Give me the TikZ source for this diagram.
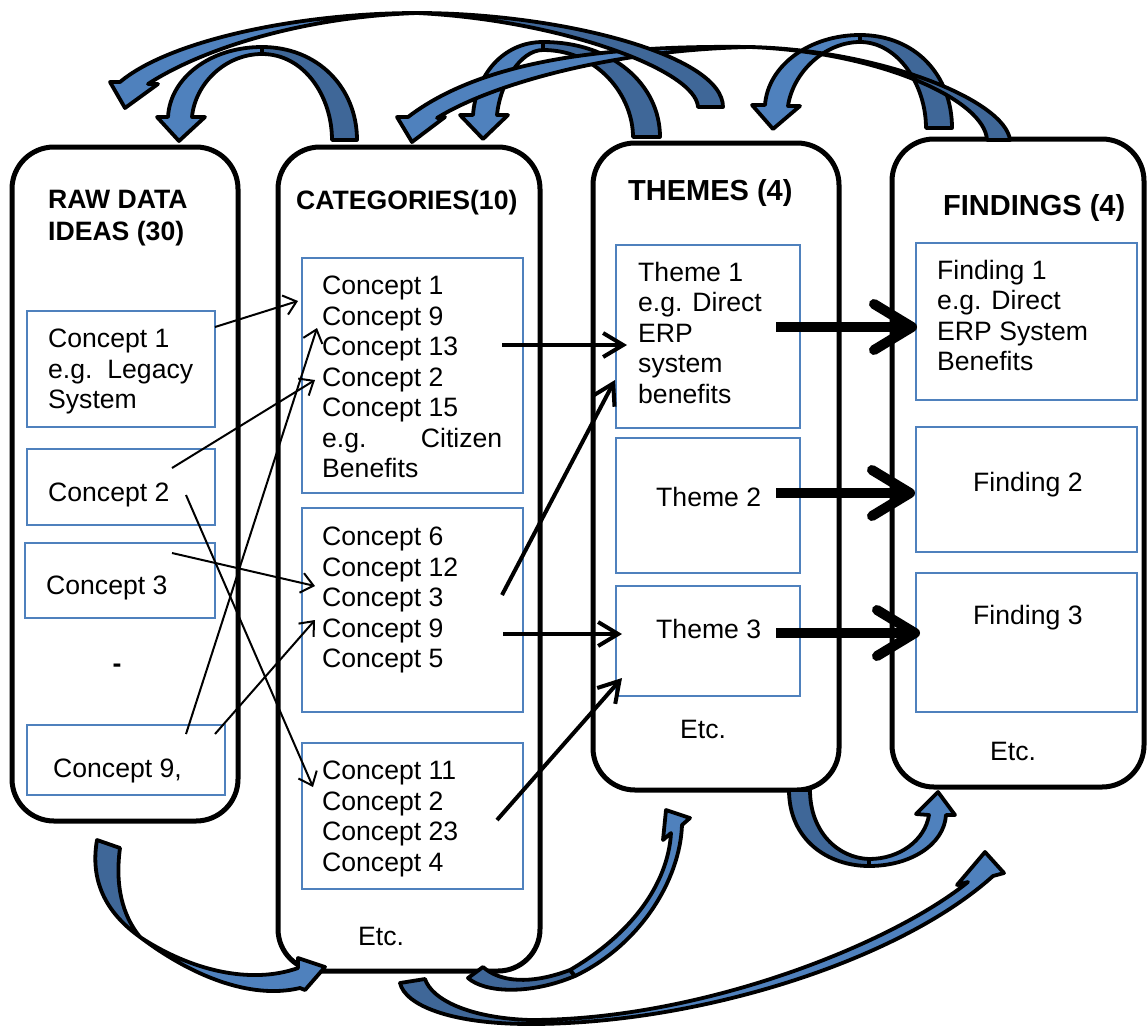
\documentclass[tikz,border=0pt]{standalone}
\usepackage{fontspec}
\setmainfont{Liberation Sans}
\usetikzlibrary{arrows.meta}

\definecolor{boxblue}{RGB}{79,129,189}
\definecolor{ribbonlight}{RGB}{79,129,189}
\definecolor{ribbondark}{RGB}{63,103,152}

\newcommand{\bodyfont}{\fontsize{26.6}{30.5}\selectfont}
\newcommand{\headfont}{\bfseries\fontsize{26.6}{31.5}\selectfont}
\newcommand{\bigheadfont}{\bfseries\fontsize{29}{33}\selectfont}

\begin{document}
\begin{tikzpicture}[x=1pt,y=-1pt,
	stage/.style={draw,line width=5pt,rounded corners=42pt},
	concept box/.style={draw=boxblue,line width=1.6pt},
	txt/.style={font=\bodyfont,inner sep=0pt,anchor=north west,align=left},
	head/.style={txt,font=\headfont},
	big head/.style={txt,font=\bigheadfont},
	thin link/.style={-{Straight Barb[length=12pt,width=20pt]},line width=2pt},
	mid link/.style={-{Straight Barb[length=20pt,width=24pt]},line width=4pt},
	big link/.style={-{Straight Barb[length=38pt,width=46pt,round]},line width=10pt},
	ribbon/.style={draw=black,line width=3.8pt,line join=round}]

	\useasboundingbox (0,0) rectangle (1148,1028);

	% the four stages
	\node[stage,minimum width=226pt,minimum height=674pt] (raw) at (125,484) {};
	\node[stage,minimum width=262pt,minimum height=824pt] (cat) at (409,559) {};
	\node[stage,minimum width=246pt,minimum height=647pt] (themes) at (716,466.5) {};
	\node[stage,minimum width=252pt,minimum height=648pt] (findings) at (1018,463) {};

	\node[head] (raw title) at (48,190) {RAW DATA\\IDEAS (30)};
	\node[head] (cat title) at (296,190) {CATEGORIES(10)};
	\node[big head] (themes title) at (628,179) {THEMES (4)};
	\node[big head] (findings title) at (943,194) {FINDINGS (4)};

	% raw data ideas
	\node[concept box,minimum width=188pt,minimum height=116pt] (rawc1) at (121,369) {};
	\node[concept box,minimum width=188pt,minimum height=76pt] (rawc2) at (121,487) {};
	\node[concept box,minimum width=190pt,minimum height=75pt] (rawc3) at (120,580.5) {};
	\node[concept box,minimum width=198pt,minimum height=70pt] (rawc9) at (126,760) {};
	\node[txt] (rawc1 text) at (48,329) {Concept 1\\\hbox to 145pt{e.g.\hfill Legacy}\\System};
	\node[txt] (rawc2 text) at (48,483) {Concept 2};
	\node[txt] (rawc3 text) at (46,576) {Concept 3};
	\node[font=\headfont,inner sep=0pt] (raw gap) at (117,668) {-};
	\node[txt] (rawc9 text) at (53,759) {Concept 9,};

	% categories
	\node[concept box,minimum width=221pt,minimum height=235pt] (cat1) at (412.5,375.5) {};
	\node[concept box,minimum width=221pt,minimum height=204pt] (cat2) at (412.5,610) {};
	\node[concept box,minimum width=221pt,minimum height=146pt] (cat3) at (412.5,816) {};
	\node[txt] (cat1 text) at (322,276) {Concept 1\\Concept 9\\Concept 13\\Concept 2\\Concept 15\\\hbox to 180pt{e.g.\hfill Citizen}\\Benefits};
	\node[txt] (cat2 text) at (322,527) {Concept 6\\Concept 12\\Concept 3\\Concept 9\\Concept 5};
	\node[txt] (cat3 text) at (322,761) {Concept 11\\Concept 2\\Concept 23\\Concept 4};
	\node[txt] (cat etc) at (358,927) {Etc.};

	% themes
	\node[concept box,minimum width=184pt,minimum height=183pt] (theme1) at (708,336.5) {};
	\node[concept box,minimum width=184pt,minimum height=135pt] (theme2) at (708,505.5) {};
	\node[concept box,minimum width=184pt,minimum height=110pt] (theme3) at (708,641) {};
	\node[txt] (theme1 text) at (638,262) {Theme 1\\e.g. Direct\\ERP\\system\\benefits};
	\node[txt] (theme2 text) at (656,487) {Theme 2};
	\node[txt] (theme3 text) at (656,619) {Theme 3};
	\node[txt] (themes etc) at (680,720) {Etc.};

	% findings
	\node[concept box,minimum width=221pt,minimum height=157pt] (find1) at (1026.5,321.5) {};
	\node[concept box,minimum width=221pt,minimum height=125pt] (find2) at (1026.5,489.5) {};
	\node[concept box,minimum width=221pt,minimum height=139pt] (find3) at (1026.5,642.5) {};
	\node[txt] (find1 text) at (937,260) {Finding 1\\e.g. Direct\\ERP System\\Benefits};
	\node[txt] (find2 text) at (973,472) {Finding 2};
	\node[txt] (find3 text) at (973,605) {Finding 3};
	\node[txt] (findings etc) at (990,742) {Etc.};

	% link ends
	\coordinate (rawc1 out) at (215,327);
	\coordinate (rawc2 up) at (172,468);
	\coordinate (rawc2 down) at (186,495);
	\coordinate (rawc3 out) at (172,553);
	\coordinate (rawc9 up) at (186,734);
	\coordinate (rawc9 out) at (215,734);
	\coordinate (cat1 c1) at (298,301);
	\coordinate (cat1 c9) at (317,328);
	\coordinate (cat1 c2) at (315,380);
	\coordinate (cat2 c3) at (315,586);
	\coordinate (cat2 c9) at (315,620);
	\coordinate (cat3 c11) at (313,787);
	\coordinate (cat1 out) at (502,345);
	\coordinate (cat2 up) at (502,595);
	\coordinate (cat2 out) at (503,634);
	\coordinate (cat3 out) at (497,820);
	\coordinate (theme1 in) at (627,345);
	\coordinate (theme1 low) at (615,380);
	\coordinate (theme3 in) at (622,634);
	\coordinate (theme3 low) at (622,678);
	\coordinate (theme1 out) at (776,327);
	\coordinate (theme2 out) at (776,493);
	\coordinate (theme3 out) at (776,633);
	\coordinate (find1 in) at (917,327);
	\coordinate (find2 in) at (915,493);
	\coordinate (find3 in) at (920,633);

	\draw[thin link] (rawc1 out) -- (cat1 c1);
	\draw[thin link] (rawc2 up) -- (cat1 c2);
	\draw[thin link] (rawc2 down) -- (cat3 c11);
	\draw[thin link] (rawc3 out) -- (cat2 c3);
	\draw[thin link] (rawc9 up) -- (cat1 c9);
	\draw[thin link] (rawc9 out) -- (cat2 c9);

	\draw[mid link] (cat1 out) -- (theme1 in);
	\draw[mid link] (cat2 up) -- (theme1 low);
	\draw[mid link] (cat2 out) -- (theme3 in);
	\draw[mid link] (cat3 out) -- (theme3 low);

	\draw[big link] (theme1 out) -- (find1 in);
	\draw[big link] (theme2 out) -- (find2 in);
	\draw[big link] (theme3 out) -- (find3 in);

	% feedback ribbons, top
	\filldraw[ribbon,fill=ribbondark] (262,47) .. controls (318,47) and (357,88) .. (357,140) -- (332,140) .. controls (332,96) and (304,54) .. (262,54) -- cycle;
	\filldraw[ribbon,fill=ribbonlight] (262,47) .. controls (210,47) and (170,78) .. (168,117) -- (157,117) -- (179,141) -- (205,117) -- (192,117) .. controls (195,84) and (225,54) .. (262,54) -- cycle;

	\filldraw[ribbon,fill=ribbondark] (543,42) .. controls (613,42) and (660,85) .. (660,137) -- (633,137) .. controls (633,96) and (598,50) .. (543,50) -- cycle;
	\filldraw[ribbon,fill=ribbonlight] (543,42) .. controls (503,42) and (476,75) .. (473,115) -- (460,115) -- (483,139) -- (508,115) -- (497,115) .. controls (500,84) and (520,50) .. (543,50) -- cycle;

	\filldraw[ribbon,fill=ribbondark] (860,35) .. controls (915,35) and (952,75) .. (952,128) -- (926,128) .. controls (926,85) and (898,42) .. (860,42) -- cycle;
	\filldraw[ribbon,fill=ribbonlight] (860,35) .. controls (810,35) and (768,65) .. (765,105) -- (752,105) -- (773,129) -- (800,106) -- (788,106) .. controls (793,72) and (825,42) .. (860,42) -- cycle;

	\filldraw[ribbon,fill=ribbondark] (750,47) .. controls (880,50) and (1005,100) .. (1010,140) -- (987,140) .. controls (985,100) and (880,52) .. (750,47) -- cycle;
	\filldraw[ribbon,fill=ribbonlight] (750,47) .. controls (600,45) and (480,62) .. (408,117) -- (397,117) -- (412,142) -- (445,117) -- (437,118) .. controls (490,85) and (610,50) .. (750,47) -- cycle;

	\filldraw[ribbon,fill=ribbondark] (417,13) .. controls (560,13) and (723,55) .. (723,107) -- (698,107) .. controls (696,70) and (560,20) .. (417,13) -- cycle;
	\filldraw[ribbon,fill=ribbonlight] (417,13) .. controls (300,13) and (170,40) .. (120,82) -- (110,82) -- (125,108) -- (158,84) -- (148,84) .. controls (200,50) and (300,17) .. (417,13) -- cycle;

	% feedback ribbons, bottom
	\filldraw[ribbon,fill=ribbondark] (97,840) .. controls (90,880) and (105,912) .. (140,937) .. controls (122,915) and (115,885) .. (120,848) -- cycle;
	\filldraw[ribbon,fill=ribbonlight] (140,937) .. controls (190,975) and (250,1000) .. (300,988) -- (305,990) -- (325,967) -- (298,958) -- (298,968) .. controls (250,985) and (190,970) .. (140,937) -- cycle;

	\filldraw[ribbon,fill=ribbondark] (789,790) .. controls (789,840) and (828,866) .. (869,866) -- (869,859) .. controls (838,858) and (810,832) .. (810,790) -- cycle;
	\filldraw[ribbon,fill=ribbonlight] (869,866) .. controls (910,866) and (944,845) .. (946,815) -- (955,815) -- (938,792) -- (916,814) -- (929,815) .. controls (925,840) and (900,859) .. (869,859) -- cycle;

	\filldraw[ribbon,fill=ribbondark] (468,978) .. controls (485,993) and (530,995) .. (575,976) -- (570,970) .. controls (530,985) and (500,982) .. (483,967) -- cycle;
	\filldraw[ribbon,fill=ribbonlight] (575,976) .. controls (640,945) and (680,880) .. (682,825) -- (690,818) -- (666,810) -- (663,840) -- (671,833) .. controls (668,885) and (630,935) .. (570,970) -- cycle;

	\filldraw[ribbon,fill=ribbondark] (400,983) .. controls (405,1005) and (450,1024) .. (530,1024) -- (530,1020) .. controls (470,1018) and (432,1000) .. (425,979) -- cycle;
	\filldraw[ribbon,fill=ribbonlight] (530,1024) .. controls (700,1024) and (900,960) .. (993,876) -- (1004,873) -- (985,852) -- (957,885) -- (968,882) .. controls (890,945) and (700,1020) .. (530,1020) -- cycle;
\end{tikzpicture}
\end{document}
